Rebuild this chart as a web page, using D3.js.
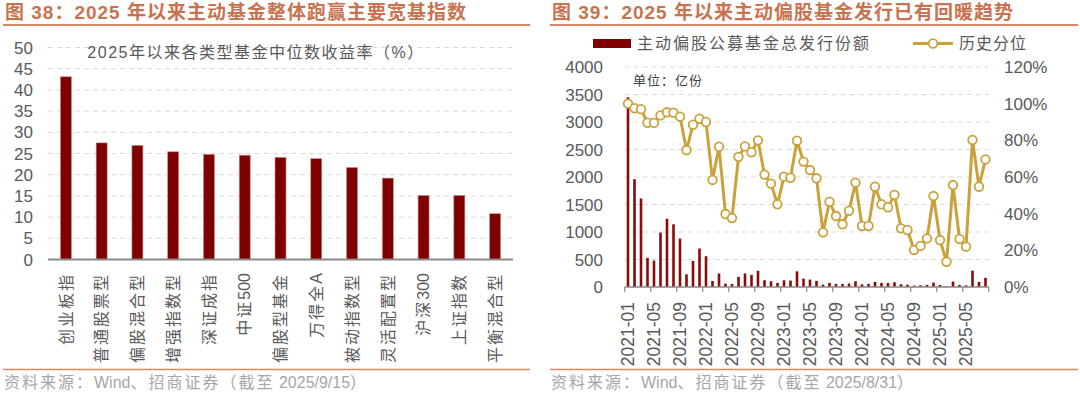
<!DOCTYPE html>
<html>
<head>
<meta charset="utf-8">
<script src="https://cdn.jsdelivr.net/npm/d3@7"></script>
<style>
  body { margin: 0; background: #fff; }
  svg { display: block; }
  text { font-family: "Liberation Sans", "Noto Sans CJK SC", sans-serif; }
</style>
</head>
<body>
<div id="chart"></div>
<script>
// left panel data
const fundTypes = ["创业板指", "普通股票型", "偏股混合型", "增强指数型", "深证成指", "中证500",
  "偏股型基金", "万得全A", "被动指数型", "灵活配置型", "沪深300", "上证指数", "平衡混合型"];
const medianReturns = [43.1, 27.5, 26.9, 25.4, 24.8, 24.6, 24.1, 23.8, 21.7, 19.2, 15.1, 15.1, 10.8];
const leftTicks = [0, 5, 10, 15, 20, 25, 30, 35, 40, 45, 50];

// right panel data
const months = [
  "2021-01","2021-02","2021-03","2021-04","2021-05","2021-06","2021-07","2021-08","2021-09","2021-10","2021-11","2021-12",
  "2022-01","2022-02","2022-03","2022-04","2022-05","2022-06","2022-07","2022-08","2022-09","2022-10","2022-11","2022-12",
  "2023-01","2023-02","2023-03","2023-04","2023-05","2023-06","2023-07","2023-08","2023-09","2023-10","2023-11","2023-12",
  "2024-01","2024-02","2024-03","2024-04","2024-05","2024-06","2024-07","2024-08","2024-09","2024-10","2024-11","2024-12",
  "2025-01","2025-02","2025-03","2025-04","2025-05","2025-06","2025-07","2025-08"];
const issuance = [3450, 1960, 1610, 530, 480, 990, 1240, 1140, 880, 230, 475, 700,
  560, 110, 245, 60, 55, 185, 245, 220, 295, 123, 105, 74,
  123, 117, 284, 152, 135, 111, 43, 74, 56, 56, 62, 105,
  49, 56, 93, 74, 74, 86, 49, 43, 25, 31, 37, 80,
  37, 12, 99, 37, 31, 296, 93, 167];
const percentile = [100, 97.5, 97, 89.6, 89.5, 93.6, 95.3, 95.1, 92.9, 74.7, 88.5, 91.8,
  90, 58.4, 76.5, 39.8, 37.6, 71, 76.7, 73.5, 80, 61.3, 56.4, 45.1,
  60.2, 59.6, 79.8, 68.4, 63.8, 59.3, 29.8, 46.5, 38.7, 34.2, 41.6, 56.9,
  33.3, 33.3, 54.7, 45.1, 43.5, 50.2, 32, 31.1, 20.2, 22.4, 26.5, 49.6,
  25.6, 13.8, 55.6, 26.2, 22, 80.2, 54.7, 69.6];
const issueTicks = [0, 500, 1000, 1500, 2000, 2500, 3000, 3500, 4000];
const pctTicks = [0, 0.2, 0.4, 0.6, 0.8, 1.0, 1.2];

const titleColor = "#c8734f";
const ruleColor = "#d9876a";
const textGray = "#595959";
const barRed = "#7f0000";
const gold = "#c9a23a";

const svg = d3.select("#chart").append("svg")
  .attr("width", 1080)
  .attr("height", 394);

// CJK runs get letter spacing, latin runs stay tight
function spacedText(sel, str, spacing) {
  const runs = str.match(/[\x20-\x7e]+|[^\x20-\x7e]+/g);
  runs.forEach(r => {
    sel.append("tspan")
      .style("letter-spacing", /[\x20-\x7e]/.test(r[0]) ? "0px" : spacing)
      .text(r);
  });
}

// ---- headers and footers ----
function frame(x0, x1, title, source) {
  svg.append("text")
    .attr("x", x0 + 2).attr("y", 19)
    .style("font-size", "19px").style("font-weight", "bold")
    .style("letter-spacing", "1px")
    .attr("fill", titleColor)
    .text(title);
  svg.append("line")
    .attr("x1", x0).attr("x2", x1).attr("y1", 25).attr("y2", 25)
    .attr("stroke", ruleColor).attr("stroke-width", 2);
  svg.append("line")
    .attr("x1", x0).attr("x2", x1).attr("y1", 369.5).attr("y2", 369.5)
    .attr("stroke", ruleColor).attr("stroke-width", 1.5);
  const src = svg.append("text")
    .attr("x", x0 + 1).attr("y", 388)
    .style("font-size", "16px")
    .attr("fill", "#a6a6a6");
  spacedText(src, source, "2px");
}
frame(3, 530, "图 38：2025 年以来主动基金整体跑赢主要宽基指数", "资料来源：Wind、招商证券（截至 2025/9/15）");
frame(550, 1078, "图 39：2025 年以来主动偏股基金发行已有回暖趋势", "资料来源：Wind、招商证券（截至 2025/8/31）");

// ---- left chart ----
const xL = d3.scaleBand().domain(fundTypes).range([48, 513]);
const yL = d3.scaleLinear().domain([0, 50]).range([259.5, 47.5]);
const gL = svg.append("g");

gL.selectAll(".grid-l")
  .data(leftTicks.filter(d => d > 0))
  .enter().append("line")
  .attr("x1", 48).attr("x2", 513)
  .attr("y1", d => yL(d)).attr("y2", d => yL(d))
  .attr("stroke", "#d9d9d9").attr("stroke-dasharray", "5,4");

gL.selectAll(".ytick-l")
  .data(leftTicks)
  .enter().append("text")
  .attr("x", 33).attr("y", d => yL(d)).attr("dy", "0.36em")
  .attr("text-anchor", "end")
  .style("font-size", "17px")
  .attr("fill", textGray)
  .text(d => d);

const barW = 11;
gL.selectAll(".bar-l")
  .data(medianReturns)
  .enter().append("rect")
  .attr("x", (d, i) => xL(fundTypes[i]) + xL.bandwidth() / 2 - barW / 2)
  .attr("width", barW)
  .attr("y", d => yL(d))
  .attr("height", d => yL(0) - yL(d))
  .attr("fill", barRed)
  .attr("stroke", "#c98f8f").attr("stroke-width", 0.6);

gL.append("line")
  .attr("x1", 48).attr("x2", 513).attr("y1", yL(0)).attr("y2", yL(0))
  .attr("stroke", "#898989").attr("stroke-width", 2);

gL.selectAll(".xlab-l")
  .data(fundTypes)
  .enter().append("text")
  .attr("transform", d => `translate(${xL(d) + xL.bandwidth() / 2},273) rotate(-90)`)
  .attr("dy", "0.36em")
  .attr("text-anchor", "end")
  .style("font-size", "16px")
  .attr("fill", textGray)
  .each(function(d) { spacedText(d3.select(this), d, "2px"); });

gL.append("text")
  .attr("x", 256).attr("y", 58)
  .attr("text-anchor", "middle")
  .style("font-size", "16px")
  .style("letter-spacing", "1.5px")
  .attr("fill", textGray)
  .text("2025年以来各类型基金中位数收益率（%）");

// ---- right chart ----
const xR = d3.scaleBand().domain(months).range([624.75, 988.75]);
const yR1 = d3.scaleLinear().domain([0, 4000]).range([287, 67]);
const yR2 = d3.scaleLinear().domain([0, 1.2]).range([287, 67]);
const gR = svg.append("g");

gR.selectAll(".grid-r")
  .data(issueTicks.filter(d => d > 0))
  .enter().append("line")
  .attr("x1", 624.75).attr("x2", 988.75)
  .attr("y1", d => yR1(d)).attr("y2", d => yR1(d))
  .attr("stroke", "#d9d9d9").attr("stroke-dasharray", "5,4");

gR.selectAll(".ytick-r1")
  .data(issueTicks)
  .enter().append("text")
  .attr("x", 603).attr("y", d => yR1(d)).attr("dy", "0.36em")
  .attr("text-anchor", "end")
  .style("font-size", "17px")
  .attr("fill", textGray)
  .text(d => d);

gR.selectAll(".ytick-r2")
  .data(pctTicks)
  .enter().append("text")
  .attr("x", 1004).attr("y", d => yR2(d)).attr("dy", "0.36em")
  .attr("text-anchor", "start")
  .style("font-size", "17px")
  .attr("fill", textGray)
  .text(d => d3.format(".0%")(d));

const barW2 = 2.6;
gR.selectAll(".bar-r")
  .data(issuance)
  .enter().append("rect")
  .attr("x", (d, i) => xR(months[i]) + xR.bandwidth() / 2 - barW2 / 2)
  .attr("width", barW2)
  .attr("y", d => yR1(d))
  .attr("height", d => yR1(0) - yR1(d))
  .attr("fill", "#8b0a0a");

// axis line + ticks every 4 months
gR.append("line")
  .attr("x1", 624.75).attr("x2", 988.75).attr("y1", 287).attr("y2", 287)
  .attr("stroke", "#898989").attr("stroke-width", 1.5);
const tickIdx = d3.range(0, months.length + 1, 4);
gR.selectAll(".xtick-r")
  .data(tickIdx)
  .enter().append("line")
  .attr("x1", i => i < months.length ? xR(months[i]) : xR.range()[1])
  .attr("x2", i => i < months.length ? xR(months[i]) : xR.range()[1])
  .attr("y1", 287).attr("y2", 292)
  .attr("stroke", "#898989").attr("stroke-width", 1.2);

gR.selectAll(".xlab-r")
  .data(months.filter((d, i) => i % 4 === 0))
  .enter().append("text")
  .attr("transform", d => `translate(${xR(d) + xR.bandwidth() / 2},302) rotate(-90)`)
  .attr("dy", "0.36em")
  .attr("text-anchor", "end")
  .style("font-size", "17.5px")
  .attr("fill", textGray)
  .text(d => d);

const line = d3.line()
  .x((d, i) => xR(months[i]) + xR.bandwidth() / 2)
  .y(d => yR2(d / 100));
gR.append("path")
  .datum(percentile)
  .attr("d", line)
  .attr("fill", "none")
  .attr("stroke", gold)
  .attr("stroke-width", 3)
  .attr("stroke-linejoin", "round");
gR.selectAll(".dot")
  .data(percentile)
  .enter().append("circle")
  .attr("cx", (d, i) => xR(months[i]) + xR.bandwidth() / 2)
  .attr("cy", d => yR2(d / 100))
  .attr("r", 4.3)
  .attr("fill", "#fff")
  .attr("stroke", gold)
  .attr("stroke-width", 1.8);

gR.append("text")
  .attr("x", 633).attr("y", 85)
  .style("font-size", "13px")
  .style("letter-spacing", "1px")
  .attr("fill", "#404040")
  .text("单位：亿份");

// legend
const lg = svg.append("g");
lg.append("rect")
  .attr("x", 593).attr("y", 39).attr("width", 38).attr("height", 9)
  .attr("fill", barRed);
lg.append("text")
  .attr("x", 637).attr("y", 49)
  .style("font-size", "16px").style("letter-spacing", "2px")
  .attr("fill", textGray)
  .text("主动偏股公募基金总发行份额");
lg.append("line")
  .attr("x1", 913).attr("x2", 953).attr("y1", 43.5).attr("y2", 43.5)
  .attr("stroke", gold).attr("stroke-width", 3);
lg.append("circle")
  .attr("cx", 933).attr("cy", 43.5).attr("r", 4.3)
  .attr("fill", "#fff").attr("stroke", gold).attr("stroke-width", 1.8);
lg.append("text")
  .attr("x", 959).attr("y", 49)
  .style("font-size", "16px").style("letter-spacing", "1px")
  .attr("fill", textGray)
  .text("历史分位");
</script>
</body>
</html>
